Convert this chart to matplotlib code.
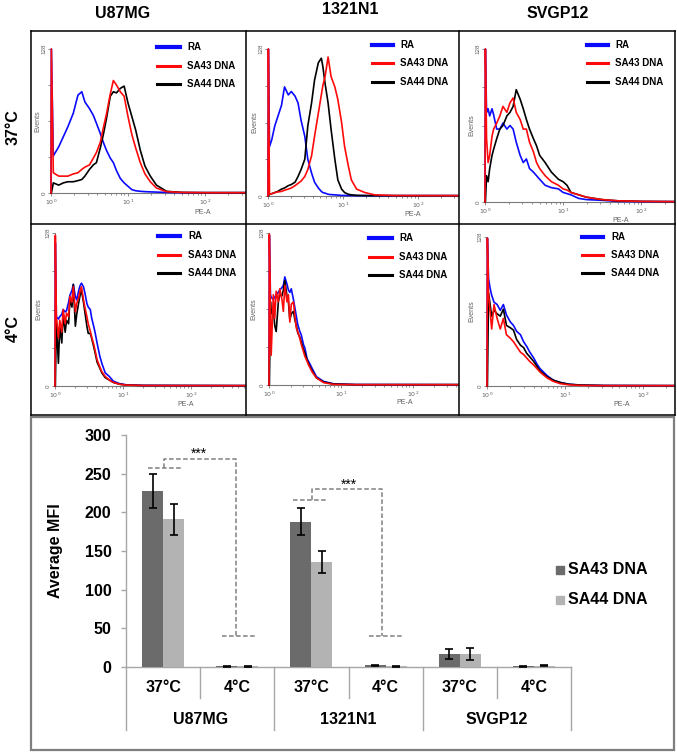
import numpy as np
import matplotlib
matplotlib.use('Agg')
import matplotlib.pyplot as plt
from matplotlib.lines import Line2D
from matplotlib.patches import Rectangle
from matplotlib.ticker import FixedLocator, LogLocator, NullFormatter

plt.rcParams['font.family'] = ['Liberation Sans', 'DejaVu Sans']

# ---------------- data ----------------
cell_lines = ['U87MG', '1321N1', 'SVGP12']
temps = ['37°C', '4°C']
series_names = ['RA', 'SA43 DNA', 'SA44 DNA']

# flow histograms: log10(PE-A) positions and event counts
L_u87_37 = [0, 0.005, 0.03, 0.1, 0.16, 0.22, 0.29, 0.35, 0.4, 0.44, 0.5, 0.55, 0.59, 0.64, 0.68, 0.72,
            0.77, 0.81, 0.85, 0.9, 0.95, 1.0, 1.05, 1.1, 1.16, 1.22, 1.29, 1.37, 1.5, 1.7, 2.0, 2.52]
RA_u87_37 = [0, 128, 33, 41, 50, 59, 71, 87, 90, 81, 75, 69, 62, 53, 45, 38,
             31, 27, 20, 13, 9, 6, 3, 2, 1.5, 1.2, 1, 0.8, 0.5, 0.3, 0.3, 0.3]
SA43_u87_37 = [0, 128, 18, 15, 15, 15, 17, 18, 21, 23, 25, 31, 36, 45, 58, 70,
               88, 100, 96, 90, 86, 68, 52, 40, 27, 17, 10, 4.4, 1.2, 0.5, 0.3, 0.3]
SA44_u87_37 = [0, 0, 9, 7, 9, 10, 10, 11, 12, 15, 21, 25, 27, 40, 52, 66,
               86, 90, 89, 93, 95, 80, 68, 56, 38, 24, 15, 7, 1.5, 0.5, 0.3, 0.3]

L_1321_37 = [0, 0.005, 0.02, 0.05, 0.09, 0.13, 0.18, 0.22, 0.27, 0.31, 0.36, 0.4, 0.44, 0.49, 0.53, 0.58, 0.62,
             0.67, 0.71, 0.73, 0.76, 0.8, 0.84, 0.89, 0.93, 0.98, 1.02, 1.07, 1.11, 1.18, 1.29, 1.42, 1.7, 2.53]
RA_1321_37 = [0, 128, 43, 49, 61, 69, 79, 95, 88, 91, 87, 81, 66, 52, 32, 20, 12,
              7, 4, 3, 2.5, 1.5, 1.2, 1, 0.8, 0.5, 0.5, 0.4, 0.4, 0.3, 0.3, 0.3, 0.3, 0.3]
SA43_1321_37 = [0, 128, 1.5, 2, 3, 3.5, 4, 5, 6, 7, 9, 11, 13, 17, 23, 35, 52,
                72, 88, 96, 104, 121, 104, 95, 84, 64, 43, 26, 14, 6, 3, 1, 0.4, 0.3]
SA44_1321_37 = [0, 0, 1.5, 2, 3, 4, 6, 7, 9, 10, 12, 17, 23, 32, 61, 81, 101,
                116, 120, 113, 98, 81, 58, 32, 14, 6, 3, 1.5, 1, 0.6, 0.4, 0.3, 0.3, 0.3]

L_svg_37 = [0, 0.005, 0.02, 0.04, 0.06, 0.09, 0.11, 0.15, 0.19, 0.23, 0.28, 0.32, 0.36, 0.4, 0.45, 0.49, 0.53,
            0.57, 0.62, 0.66, 0.7, 0.77, 0.85, 0.94, 1.0, 1.05, 1.1, 1.2, 1.3, 1.5, 1.7, 2.0, 2.42]
RA_svg_37 = [0, 128, 75, 78, 72, 78, 73, 61, 61, 66, 61, 64, 61, 50, 39, 33, 36,
             28, 25, 22, 19, 14, 12, 11, 8, 7, 6, 3, 2, 1.4, 0.5, 0.3, 0.3]
SA43_svg_37 = [0, 128, 53, 33, 39, 55, 61, 66, 72, 80, 75, 83, 87, 75, 69, 61, 61,
               50, 42, 33, 28, 22, 17, 14, 11, 10, 8, 6, 4, 2, 1, 0.5, 0.3]
SA44_svg_37 = [0, 0, 22, 17, 28, 39, 44, 53, 61, 64, 72, 75, 80, 94, 86, 78, 69,
               61, 53, 47, 39, 33, 25, 19, 17, 14, 8, 6, 4, 2, 1, 0.5, 0.3]

L_u87_4 = [0, 0.005, 0.02, 0.05, 0.07, 0.1, 0.12, 0.15, 0.17, 0.2, 0.22, 0.25, 0.27, 0.3, 0.32, 0.35, 0.37, 0.39,
           0.42, 0.44, 0.47, 0.49, 0.52, 0.54, 0.57, 0.59, 0.62, 0.66, 0.69, 0.74, 0.8, 0.86, 0.95, 1.05, 1.3, 2.8]
RA_u87_4 = [0, 120, 58, 56, 58, 60, 64, 62, 63, 70, 76, 80, 85, 75, 72, 80, 84, 86,
            83, 78, 69, 66, 64, 57, 50, 45, 36, 25, 19, 11, 8, 4, 2, 1, 0.5, 0.3]
SA43_u87_4 = [0, 126, 58, 40, 55, 45, 64, 52, 61, 58, 75, 70, 83, 62, 69, 74, 80, 83,
              72, 66, 58, 52, 46, 41, 35, 30, 22, 16, 12, 8, 5, 3, 1.5, 0.8, 0.4, 0.3]
SA44_u87_4 = [0, 0, 55, 19, 50, 36, 60, 45, 55, 52, 72, 66, 85, 50, 60, 70, 76, 80,
              70, 62, 50, 44, 44, 40, 33, 28, 20, 15, 11, 7, 5, 3, 1.5, 0.8, 0.4, 0.3]

L_1321_4 = [0, 0.005, 0.02, 0.03, 0.06, 0.08, 0.1, 0.13, 0.15, 0.18, 0.2, 0.22, 0.25, 0.27, 0.29, 0.31,
            0.34, 0.36, 0.38, 0.4, 0.43, 0.45, 0.48, 0.5, 0.53, 0.55, 0.6, 0.66, 0.76, 0.9, 1.2, 2.63]
RA_1321_4 = [0, 126, 76, 74, 72, 74, 76, 78, 80, 82, 84, 91, 85, 80, 78, 81,
             72, 65, 58, 51, 45, 42, 34, 31, 22, 20, 14, 7, 3, 1, 0.4, 0.3]
SA43_1321_4 = [0, 127, 65, 25, 76, 56, 79, 70, 81, 72, 62, 84, 70, 76, 53, 68,
               70, 58, 48, 45, 39, 34, 28, 24, 20, 17, 11, 6, 2, 0.5, 0.3, 0.3]
SA44_1321_4 = [0, 0, 70, 60, 65, 50, 45, 70, 76, 75, 80, 88, 75, 70, 55, 60,
               62, 55, 50, 44, 40, 36, 30, 27, 21, 18, 12, 6, 2.5, 0.8, 0.3, 0.3]

L_svg_4 = [0, 0.005, 0.02, 0.04, 0.06, 0.09, 0.13, 0.17, 0.21, 0.25, 0.3, 0.34, 0.38, 0.43,
           0.47, 0.51, 0.55, 0.6, 0.64, 0.68, 0.77, 0.85, 0.94, 1.05, 1.2, 1.5, 2.4]
RA_svg_4 = [0, 127, 92, 84, 78, 72, 70, 65, 70, 61, 55, 52, 47, 44,
            38, 34, 29, 24, 19, 15, 9, 5, 3, 1.5, 0.8, 0.4, 0.3]
SA43_svg_4 = [0, 127, 78, 64, 49, 70, 58, 49, 58, 44, 41, 38, 34, 29,
              27, 24, 21, 18, 15, 12, 7, 4, 2, 1, 0.5, 0.3, 0.3]
SA44_svg_4 = [0, 0, 80, 70, 60, 65, 62, 60, 66, 52, 50, 48, 40, 35,
              33, 28, 25, 21, 17, 13, 8, 5, 3, 1.5, 0.8, 0.4, 0.3]

# bar chart: average MFI
bar_temps = ['37°C', '4°C', '37°C', '4°C', '37°C', '4°C']
sa43_mfi = [228, 1, 188, 2, 17, 1]
sa43_err = [22, 0.5, 17, 0.8, 6.5, 0.5]
sa44_mfi = [191, 1, 136, 1, 17, 1.5]
sa44_err = [20, 0.5, 14, 0.5, 8, 0.8]
y_ticks = [0, 50, 100, 150, 200, 250, 300]

# ---------------- figure ----------------
W, H = 677, 753
fig = plt.figure(figsize=(W / 100, H / 100), dpi=100)


def fx(x):
    return x / W


def fy(y):
    return 1 - y / H


def fline(xs, ys, **kw):
    fig.add_artist(Line2D([fx(v) for v in xs], [fy(v) for v in ys], **kw))


# frame of the histogram grid
for xs, ys in [([31, 675], [31, 31]), ([31, 675], [415, 415]), ([31, 31], [31, 415]),
               ([675, 675], [31, 415]), ([246, 246], [31, 415]), ([459, 459], [31, 415]),
               ([31, 675], [224, 224])]:
    fline(xs, ys, color='black', lw=1.1)

# headers
fig.text(fx(123), fy(13), cell_lines[0], ha='center', va='center', fontsize=11.5, fontweight='bold')
fig.text(fx(350), fy(10), cell_lines[1], ha='center', va='center', fontsize=11.5, fontweight='bold')
fig.text(fx(558), fy(14), cell_lines[2], ha='center', va='center', fontsize=11.5, fontweight='bold')
fig.text(fx(13), fy(127), temps[0], ha='center', va='center', rotation=90, fontsize=11.5, fontweight='bold')
fig.text(fx(13), fy(328), temps[1], ha='center', va='center', rotation=90, fontsize=11.5, fontweight='bold')

panels = [
    dict(x0=51, x1=245, yz=193, yt=49, pe=0.78, pedy=20, evdx=13,
         leg=(157, 180, 187, [47, 66, 84]),
         data=(L_u87_37, RA_u87_37, SA43_u87_37, SA44_u87_37)),
    dict(x0=268, x1=458, yz=196, yt=49, pe=0.76, pedy=18, evdx=13,
         leg=(372, 393, 400, [45, 63, 82]),
         data=(L_1321_37, RA_1321_37, SA43_1321_37, SA44_1321_37)),
    dict(x0=485, x1=674, yz=202, yt=49, pe=0.72, pedy=18, evdx=13,
         leg=(587, 608, 615, [45, 63, 82]),
         data=(L_svg_37, RA_svg_37, SA43_svg_37, SA44_svg_37)),
    dict(x0=55, x1=245, yz=386, yt=233, pe=0.69, pedy=18, evdx=16,
         leg=(158, 180, 188, [236, 255, 273]),
         data=(L_u87_4, RA_u87_4, SA43_u87_4, SA44_u87_4)),
    dict(x0=269, x1=458, yz=385, yt=233, pe=0.72, pedy=18, evdx=15,
         leg=(369, 392, 399, [238, 257, 275]),
         data=(L_1321_4, RA_1321_4, SA43_1321_4, SA44_1321_4)),
    dict(x0=487, x1=674, yz=386, yt=237, pe=0.72, pedy=18, evdx=15,
         leg=(582, 603, 611, [237, 255, 273]),
         data=(L_svg_4, RA_svg_4, SA43_svg_4, SA44_svg_4)),
]

colors = ['#0a0aff', '#ff0a0a', '#000000']
grey = '#606060'
for p in panels:
    w = p['x1'] - p['x0']
    h = p['yz'] - p['yt']
    ax = fig.add_axes([fx(p['x0']), fy(p['yz']), w / W, h / H])
    L, ra, s43, s44 = p['data']
    xv = np.power(10.0, np.array(L))
    ax.set_xscale('log')
    ax.plot(xv, ra, color=colors[0], lw=1.2, clip_on=False, zorder=3)
    ax.plot(xv, s44, color=colors[2], lw=1.2, clip_on=False, zorder=4)
    ax.plot(xv, s43, color=colors[1], lw=1.2, clip_on=False, zorder=5)
    ax.set_xlim(1, 10 ** L[-1])
    ax.set_ylim(0, 128)
    for s in ['top', 'right']:
        ax.spines[s].set_visible(False)
    for s in ['left', 'bottom']:
        ax.spines[s].set_color('#7a7a7a')
        ax.spines[s].set_linewidth(0.8)
    ax.xaxis.set_major_locator(FixedLocator([1, 10, 100]))
    ax.xaxis.set_minor_locator(LogLocator(base=10, subs=np.arange(2, 10)))
    ax.xaxis.set_minor_formatter(NullFormatter())
    ax.set_xticklabels([r'$10^0$', r'$10^1$', r'$10^2$'])
    ax.set_yticks([0, 32, 64, 96, 128])
    ax.set_yticklabels(['0', '', '', '', '128'], rotation=90, va='center')
    ax.tick_params(which='both', labelsize=4.5, colors='#7a7a7a', labelcolor=grey, length=2.2, width=0.6, pad=1)
    ax.tick_params(which='minor', length=1.3)
    ax.text(p['pe'], -p['pedy'] / h, 'PE-A', transform=ax.transAxes, ha='center', va='center',
            fontsize=5, color=grey)
    ax.text(-p['evdx'] / w, 0.5, 'Events', transform=ax.transAxes, ha='center', va='center',
            rotation=90, fontsize=5, color=grey)
    lx0, lx1, xt, ys = p['leg']
    for name, c, yy, lw in zip(series_names, colors, ys, [3.0, 2.2, 2.2]):
        fline([lx0, lx1], [yy, yy], color=c, lw=lw)
        fig.text(fx(xt), fy(yy), name, ha='left', va='center', fontsize=7, fontweight='bold')

# ---------------- bar chart ----------------
fig.add_artist(Rectangle((fx(31), fy(750)), (674 - 31) / W, (750 - 417) / H, fill=False,
                         ec='#7f7f7f', lw=1.6))

axb = fig.add_axes([fx(126), fy(667), (571 - 126) / W, (667 - 435) / H])
xc = np.arange(len(bar_temps)) + 0.5
bw = 0.284
ekw = dict(lw=1.2, capthick=1.2, ecolor='black')
axb.bar(xc - bw / 2, sa43_mfi, bw, color='#6b6b6b', yerr=sa43_err, capsize=3, error_kw=ekw, zorder=3)
axb.bar(xc + bw / 2, sa44_mfi, bw, color='#b3b3b3', yerr=sa44_err, capsize=3, error_kw=ekw, zorder=3)
axb.set_xlim(0, 6)
axb.set_ylim(0, 300)
for s in ['top', 'right']:
    axb.spines[s].set_visible(False)
for s in ['left', 'bottom']:
    axb.spines[s].set_color('#a6a6a6')
    axb.spines[s].set_linewidth(1)
axb.set_yticks(y_ticks)
axb.set_xticks([])
axb.tick_params(axis='y', length=3.5, width=1, color='#a6a6a6', pad=7, labelsize=11.5)
for t in axb.get_yticklabels():
    t.set_fontweight('bold')
fig.text(fx(55), fy(551), 'Average MFI', rotation=90, ha='center', va='center',
         fontsize=11.5, fontweight='bold')

trans = axb.get_xaxis_transform()
for xi in [1, 3, 5]:
    axb.add_line(Line2D([xi, xi], [0, -0.134], transform=trans, color='#a6a6a6', lw=1, clip_on=False))
for xi in [0, 2, 4, 6]:
    axb.add_line(Line2D([xi, xi], [0, -0.272], transform=trans, color='#a6a6a6', lw=1, clip_on=False))
for i, t in enumerate(bar_temps):
    axb.text(xc[i], -0.09, t, transform=trans, ha='center', va='center', fontsize=11.5, fontweight='bold')
for g, name in enumerate(cell_lines):
    axb.text(2 * g + 1, -0.228, name, transform=trans, ha='center', va='center',
             fontsize=11.5, fontweight='bold')

# significance brackets
brackets = [
    (0.30, 0.75, 257, 0.51, 269, 1.48, 1.29, 1.74, 40, 0.98),
    (2.25, 2.72, 216, 2.51, 230, 3.45, 3.27, 3.73, 40, 3.00),
]
dkw = dict(color='#808080', lw=1.1, linestyle=(0, (3, 1.6)), zorder=4)
for (a0, a1, yp, xj, yt, xd, b0, b1, yl, sx) in brackets:
    axb.plot([a0, a1], [yp, yp], **dkw)
    axb.plot([xj, xj, xd, xd], [yp, yt, yt, yl], **dkw)
    axb.plot([b0, b1], [yl, yl], **dkw)
    axb.text(sx, yt + 1, '***', ha='center', va='baseline', fontsize=10)

# legend for bar chart
for yy, c, name in [(570, '#6b6b6b', 'SA43 DNA'), (600, '#b3b3b3', 'SA44 DNA')]:
    fig.add_artist(Rectangle((fx(556), fy(yy + 4)), 8 / W, 8 / H, color=c))
    fig.text(fx(568), fy(yy), name, ha='left', va='center', fontsize=11.5, fontweight='bold')

fig.savefig('out.png', dpi=100)
